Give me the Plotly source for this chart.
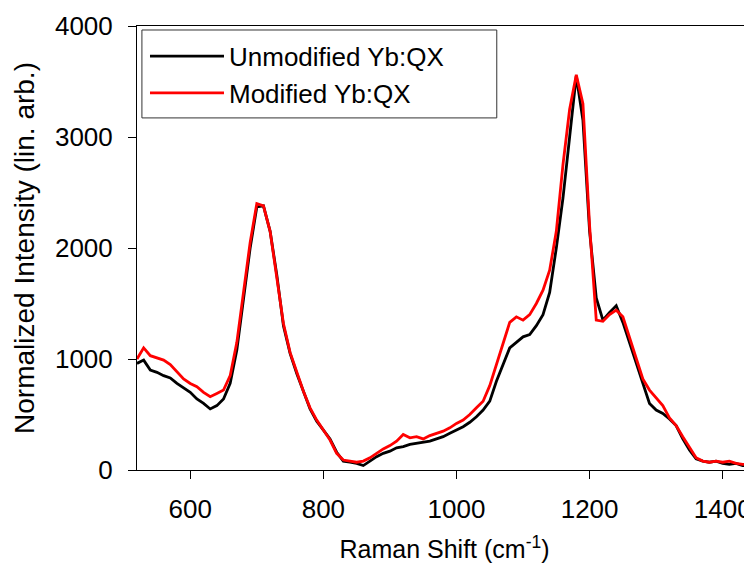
"""Raman spectra of unmodified and modified Yb:QX glass."""

import plotly.graph_objects as go

# Raman shift (cm^-1), sampled every 10 cm^-1
raman_shift = list(range(520, 1450, 10))

unmodified = [
    960, 990, 900, 880, 850, 830, 780, 740, 700, 640,
    600, 550, 580, 640, 780, 1080, 1550, 2000, 2370, 2380,
    2150, 1760, 1300, 1050, 870, 700, 550, 440, 360, 280,
    160, 80, 70, 60, 40, 80, 120, 150, 170, 200,
    210, 230, 240, 250, 260, 280, 300, 330, 360, 390,
    430, 480, 540, 620, 800, 950, 1100, 1150, 1200, 1220,
    1300, 1400, 1600, 2000, 2450, 3000, 3550, 3150, 2150, 1550,
    1350, 1420, 1480, 1330, 1150, 950, 780, 600, 540, 510,
    460, 400, 280, 180, 100, 80, 70, 80, 60, 50,
    60, 40, 40,
]

modified = [
    1000, 1100, 1030, 1010, 990, 950, 880, 820, 780, 750,
    700, 660, 690, 720, 850, 1150, 1600, 2050, 2400, 2380,
    2150, 1750, 1320, 1060, 880, 710, 560, 450, 360, 270,
    150, 90, 80, 70, 80, 110, 150, 190, 220, 260,
    320, 290, 300, 280, 310, 330, 350, 380, 420, 450,
    500, 560, 620, 760, 950, 1150, 1330, 1380, 1350, 1400,
    1500, 1620, 1800, 2150, 2750, 3250, 3560, 3300, 2200, 1350,
    1340, 1400, 1440, 1380, 1200, 1000, 820, 720, 650, 580,
    470, 400, 300, 200, 110, 80, 70, 80, 70, 80,
    60, 50, 50,
]

x_ticks = [600, 800, 1000, 1200, 1400]
y_ticks = [0, 1000, 2000, 3000, 4000]

font = "Liberation Sans, Arial, sans-serif"

fig = go.Figure()

fig.add_trace(
    go.Scatter(
        x=raman_shift,
        y=unmodified,
        mode="lines",
        name="Unmodified Yb:QX",
        line=dict(color="#000000", width=2.8),
    )
)
fig.add_trace(
    go.Scatter(
        x=raman_shift,
        y=modified,
        mode="lines",
        name="Modified Yb:QX",
        line=dict(color="#ff0000", width=2.8),
    )
)

# page body has an 8px margin, so the margins below are shifted by 8px
fig.update_layout(
    width=752,
    height=569,
    margin=dict(l=129, r=8, t=18, b=107),
    paper_bgcolor="white",
    plot_bgcolor="white",
    font=dict(family=font, size=20, color="black"),
    showlegend=True,
    legend=dict(
        x=0.013,
        y=0.985,
        xanchor="left",
        yanchor="top",
        bgcolor="rgba(0,0,0,0)",
        borderwidth=0,
        font=dict(size=26),
        itemwidth=74,
    ),
    shapes=[
        # legend frame
        dict(
            type="rect",
            xref="paper",
            yref="paper",
            x0=0.008,
            x1=0.585,
            y0=0.793,
            y1=0.991,
            line=dict(color="#333333", width=1),
            fillcolor="white",
            layer="above",
        )
    ],
)

fig.update_xaxes(
    range=[520, 1444],
    tickvals=x_ticks,
    ticks="outside",
    ticklen=8,
    tickcolor="black",
    tickfont=dict(size=26),
    ticklabelstandoff=8,
    showline=True,
    linecolor="black",
    linewidth=1,
    mirror=True,
    showgrid=False,
    zeroline=False,
    automargin=False,
    title=dict(text="Raman Shift (cm<sup>-1</sup>)", font=dict(size=25), standoff=17),
)
fig.update_yaxes(
    range=[0, 4000],
    tickvals=y_ticks,
    ticks="outside",
    ticklen=8,
    tickcolor="black",
    tickfont=dict(size=26),
    ticklabelstandoff=10,
    showline=True,
    linecolor="black",
    linewidth=1,
    showgrid=False,
    zeroline=False,
    automargin=False,
    title=dict(text="Normalized Intensity (lin. arb.)", font=dict(size=28), standoff=12),
)

fig.write_html("out.html")
